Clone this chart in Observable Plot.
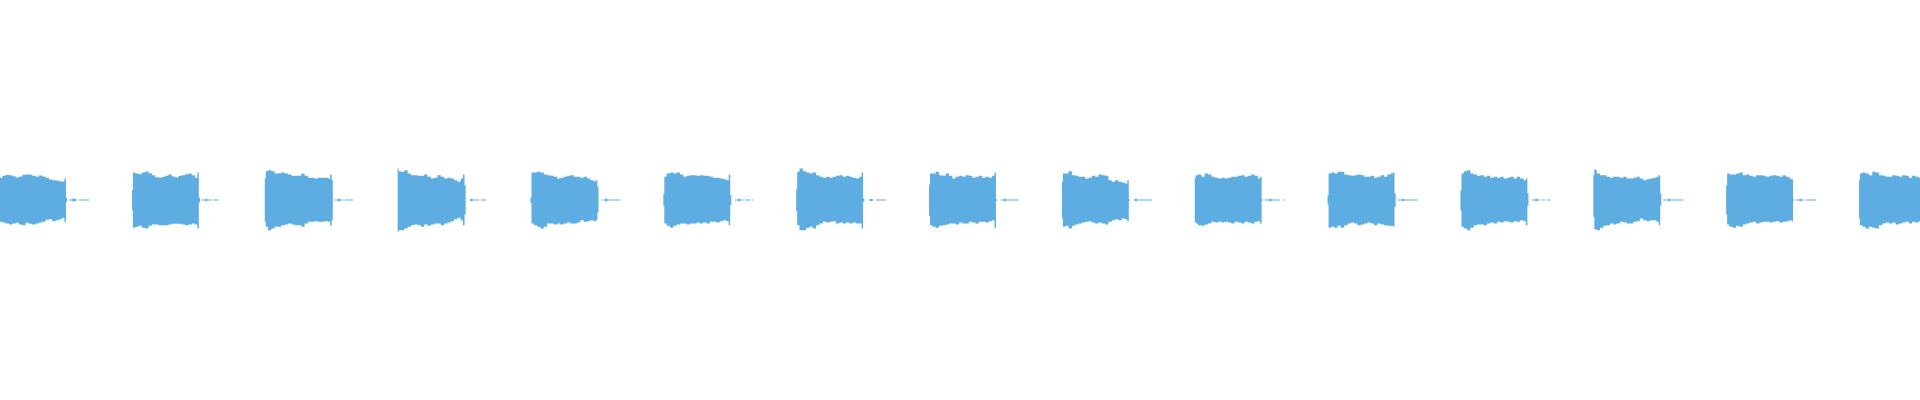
<!DOCTYPE html>
<html>
<head>
<meta charset="utf-8">
<script src="https://cdn.jsdelivr.net/npm/d3@7"></script>
<script src="https://cdn.jsdelivr.net/npm/@observablehq/plot@0.6"></script>
<style>
  html, body { margin: 0; padding: 0; background: #fff; }
  #chart svg { display: block; }
</style>
</head>
<body>
<div id="chart"></div>
<script>
// Tone bursts (seconds) and their amplitude envelopes (percent of full scale)
const blockStarts = [0, 1, 2, 3, 4, 5, 6, 7, 8, 9, 10, 11, 12, 13, 14];

const upperEnvelope = [
  [11.1, 12.1, 12.6, 12.4, 11.9, 11.3, 11.8, 12.6, 12.8, 12.6, 12.1, 11.6, 12.3, 11.8, 11.1, 10.3, 9.9, 9.8, 9.4, 9.1],
  [13.8, 13.3, 12.9, 13.8, 14.2, 13.4, 12.4, 11.4, 11.1, 11.6, 12.1, 12.8, 11.8, 11.3, 12.1, 12.4, 12.9, 13.3, 12.4, 11.1],
  [14.4, 14.9, 14.4, 13.3, 13.4, 13.8, 13.3, 12.8, 12.1, 12.1, 12.1, 13.1, 12.1, 11.1, 11.1, 10.8, 11.1, 11.1, 11.1, 10.8],
  [14.4, 14.1, 14.9, 13.3, 12.4, 12.4, 12.1, 12.1, 12.8, 11.6, 10.8, 11.1, 12.4, 11.6, 10.8, 11.1, 10.8, 9.9, 9.1, 10.8],
  [13.8, 13.8, 14.1, 13.8, 12.8, 12.4, 12.1, 11.6, 10.8, 11.1, 11.6, 12.1, 12.4, 11.6, 11.6, 11.1, 11.6, 10.8, 9.9, 9.4],
  [11.6, 13.3, 13.8, 13.3, 13.8, 12.8, 11.6, 12.1, 12.4, 12.4, 12.1, 12.4, 12.1, 12.1, 11.6, 11.1, 11.1, 10.8, 10.4, 9.9],
  [14.1, 15.8, 14.4, 13.8, 13.3, 13.8, 12.4, 11.6, 11.1, 11.6, 11.1, 11.6, 12.1, 12.4, 11.6, 12.1, 11.6, 11.1, 10.8, 11.6],
  [13.3, 13.3, 14.1, 12.4, 12.1, 13.3, 12.1, 10.8, 11.6, 12.1, 11.6, 12.4, 12.1, 11.1, 11.6, 12.1, 11.1, 11.6, 11.1, 12.1],
  [13.3, 13.3, 14.4, 12.4, 12.1, 11.6, 11.6, 10.8, 11.1, 12.1, 11.6, 12.8, 12.4, 12.1, 9.9, 9.1, 9.9, 9.1, 8.8, 8.3],
  [12.4, 12.8, 11.6, 13.3, 12.8, 11.6, 11.1, 10.8, 11.1, 10.8, 11.1, 11.6, 11.6, 12.1, 12.4, 11.6, 12.1, 12.8, 12.1, 10.8],
  [13.3, 13.8, 13.3, 14.1, 14.1, 12.8, 12.4, 12.1, 12.4, 12.8, 12.4, 11.6, 11.6, 12.1, 11.1, 11.6, 12.4, 11.6, 12.8, 13.3],
  [13.3, 14.4, 14.9, 13.3, 12.8, 12.1, 12.4, 11.6, 12.1, 11.1, 11.6, 11.1, 11.6, 10.8, 11.1, 11.6, 10.8, 11.6, 10.8, 9.9],
  [15.3, 13.3, 12.4, 12.4, 11.6, 11.1, 11.6, 11.6, 11.1, 11.6, 10.8, 10.8, 11.1, 11.6, 10.8, 9.9, 10.4, 10.8, 11.1, 11.6],
  [13.3, 12.8, 12.8, 13.3, 13.8, 12.4, 12.8, 12.1, 11.6, 12.4, 12.4, 12.1, 11.6, 12.1, 12.4, 12.1, 11.6, 12.4, 11.6, 10.8],
  [13.3, 13.8, 13.3, 12.4, 14.1, 13.8, 12.4, 12.1, 11.6, 11.6, 12.4, 12.1, 11.6, 12.4, 12.1, 11.1, 12.1, 11.6, 11.1, 11.1]
];

const lowerEnvelope = [
  [-10.9, -11.3, -11.8, -12.3, -11.8, -11.4, -12.3, -12.6, -11.4, -11.9, -12.3, -11.8, -11.3, -10.9, -9.9, -9.6, -10.6, -10.1, -9.6, -8.9],
  [-13.9, -13.4, -12.9, -13.9, -14.3, -12.9, -12.3, -12.3, -12.6, -12.6, -12.6, -12.3, -11.9, -11.9, -11.9, -12.3, -12.6, -12.3, -11.8, -12.3],
  [-13.4, -15.1, -14.3, -13.4, -13.4, -12.6, -12.3, -11.8, -12.3, -12.6, -12.6, -13.4, -11.8, -10.9, -10.9, -10.6, -10.9, -10.9, -10.6, -10.9],
  [-15.1, -15.1, -14.3, -13.4, -12.6, -12.3, -12.6, -13.4, -12.3, -12.9, -12.3, -11.8, -11.8, -12.6, -11.8, -11.3, -10.6, -9.6, -8.9, -10.1],
  [-11.8, -12.6, -13.4, -14.3, -13.4, -11.8, -11.8, -12.3, -11.8, -12.3, -11.8, -11.3, -11.8, -11.8, -11.3, -10.1, -10.9, -10.6, -10.1, -10.6],
  [-11.8, -12.9, -13.9, -12.9, -12.3, -11.8, -11.8, -12.3, -11.8, -11.8, -11.3, -11.8, -11.3, -11.8, -10.9, -10.9, -11.3, -10.6, -10.1, -10.6],
  [-12.6, -15.1, -15.1, -13.9, -13.4, -14.3, -12.6, -11.8, -10.9, -11.3, -10.9, -10.6, -11.8, -11.3, -11.8, -11.3, -11.8, -11.3, -11.8, -11.8],
  [-12.6, -13.4, -13.9, -12.9, -12.6, -12.3, -11.8, -11.8, -12.3, -11.3, -11.8, -11.8, -10.9, -11.3, -11.8, -10.9, -10.9, -11.3, -10.6, -10.1],
  [-13.4, -12.9, -14.3, -12.9, -12.3, -11.8, -11.3, -10.9, -10.6, -11.3, -11.8, -11.3, -11.8, -12.3, -10.9, -10.1, -9.6, -10.1, -9.3, -9.6],
  [-11.8, -12.6, -12.9, -12.3, -11.8, -10.9, -11.3, -10.9, -11.3, -10.9, -11.3, -11.8, -10.9, -11.3, -11.8, -10.9, -11.3, -11.8, -10.9, -10.6],
  [-13.9, -13.4, -13.9, -12.9, -13.9, -12.6, -11.8, -11.3, -11.8, -12.6, -12.3, -11.8, -11.3, -11.8, -12.6, -11.8, -12.3, -12.6, -12.9, -12.9],
  [-13.4, -14.3, -15.1, -13.9, -12.6, -12.3, -12.3, -12.6, -11.8, -11.3, -11.8, -10.9, -11.3, -10.6, -10.9, -11.3, -10.6, -10.9, -10.1, -10.6],
  [-14.6, -15.1, -13.9, -12.9, -12.6, -11.8, -12.3, -11.8, -10.9, -11.3, -11.8, -11.8, -10.9, -10.6, -9.3, -10.1, -10.6, -10.1, -10.1, -10.9],
  [-12.3, -13.4, -13.9, -12.9, -13.4, -12.3, -11.8, -11.3, -10.9, -11.8, -11.3, -10.9, -10.9, -11.3, -10.9, -10.6, -11.3, -10.9, -10.6, -10.1],
  [-12.6, -13.4, -14.3, -13.4, -13.9, -14.3, -12.6, -11.8, -11.3, -11.8, -11.3, -12.3, -11.8, -11.3, -10.9, -11.8, -10.9, -11.3, -10.6, -10.9]
];

// onset, release peak and release tail of each burst: [upper, lower]
const onsetLevel = [[11.1, -10.9], [4.9, -5.1], [10.8, -10.9], [15.8, -15.9], [1.1, -1.6], [3.3, -2.9], [5.4, -5.6], [7.8, -7.9], [9.1, -9.3], [11.1, -10.9], [2.4, -2.3], [4.9, -5.1], [12.4, -8.4], [7.4, -7.3], [9.9, -9.3]];
const releasePeak = [[10.8, -10.9], [13.8, -14.3], [12.8, -12.9], [12.8, -12.6], [9.9, -10.1], [12.8, -12.6], [13.8, -14.3], [13.8, -13.9], [9.9, -10.6], [11.6, -11.8], [13.8, -13.4], [10.8, -12.6], [12.4, -12.6], [10.4, -10.6], [11.0, -11.0]];
const releaseLow = [[1.1, -0.9], [1.1, -1.3], [9.9, -10.1], [7.4, -7.3], [6.6, -6.3], [2.4, -2.6], [0.8, -0.9], [0.4, -0.4], [0.4, -0.4], [0.4, -0.4], [3.3, -3.4], [3.3, -2.9], [3.3, -2.9], [0.4, -0.4], [1.0, -1.0]];

// residual noise after each burst (percent, symmetric)
const noiseLevels = [
  [0.3, 0.3, 0.7, 0.5, 0.3, 0, 0.3, 0.3, 0.3, 0.3, 0.3, 0.3],
  [0.3, 0.3, 0.6, 0.3, 0.3, 0.3, 0, 0.3, 0.3, 0.3, 0, 0],
  [0.3, 0.3, 0.7, 0.3, 0.3, 0, 0.3, 0.3, 0.3, 0.3, 0.3, 0],
  [0, 0.3, 0.6, 0.3, 0.3, 0.3, 0.3, 0, 0.3, 0.3, 0.3, 0],
  [0, 0.3, 0.3, 0.7, 0.3, 0.3, 0.3, 0.3, 0.3, 0.3, 0.3, 0.3],
  [0, 0.3, 0.3, 0.7, 0.3, 0.3, 0, 0.3, 0.3, 0.3, 0, 0.3],
  [0, 0, 0.5, 0.5, 0, 0, 0.3, 0.3, 0.3, 0.3, 0.3, 0.3],
  [0, 0.3, 0.3, 0.6, 0.3, 0.3, 0.3, 0.3, 0.3, 0.3, 0.3, 0.3],
  [0, 0.3, 0.6, 0.3, 0.3, 0.3, 0.3, 0.3, 0.3, 0.3, 0.3, 0.3],
  [0.3, 0.3, 0.3, 0.6, 0.3, 0.3, 0.3, 0.3, 0.3, 0, 0, 0.3],
  [0.3, 0.3, 0.3, 0.6, 0.3, 0.3, 0.3, 0.3, 0.3, 0.3, 0.3, 0.3],
  [0, 0.3, 0.3, 0.6, 0.3, 0.3, 0, 0.3, 0.3, 0, 0.3, 0.3],
  [0.3, 0.3, 0.3, 0.6, 0.3, 0.3, 0.3, 0.3, 0.3, 0.3, 0.3, 0.3],
  [0.3, 0.3, 0.6, 0.3, 0.3, 0, 0.3, 0.3, 0.3, 0.3, 0.3, 0.3],
  [0, 0, 0, 0, 0, 0, 0, 0, 0, 0, 0, 0]
];

const envelopeStep = 0.025;  // seconds between envelope readings
const noiseStep = 0.0125;    // seconds between noise readings

// Build tables for the library
const bodyRows = [];
const noiseRows = [];
blockStarts.forEach((t0, k) => {
  const push = (t, hi, lo) => bodyRows.push({ block: k, t: t0 + t, hi, lo });
  push(0, onsetLevel[k][0], onsetLevel[k][1]);
  push(0.007, onsetLevel[k][0], onsetLevel[k][1]);
  push(0.008, upperEnvelope[k][0], lowerEnvelope[k][0]);
  upperEnvelope[k].forEach((h, i) => push(0.0125 + envelopeStep * i, h, lowerEnvelope[k][i]));
  push(0.497, releasePeak[k][0], releasePeak[k][1]);
  push(0.503, releasePeak[k][0], releasePeak[k][1]);
  push(0.504, releaseLow[k][0], releaseLow[k][1]);
  push(0.512, releaseLow[k][0], releaseLow[k][1]);
  noiseLevels[k].forEach((a, j) => noiseRows.push({ block: k, t: t0 + 0.527 + noiseStep * j, a }));
  noiseRows.push({ block: k, t: t0 + 0.527 + noiseStep * noiseLevels[k].length, a: 0 });
});

const color = "#5dade2";

const chart = Plot.plot({
  width: 1920,
  height: 400,
  margin: 0,
  x: { domain: [0.007, 14.459], axis: null },
  y: { domain: [-100, 100], axis: null },
  marks: [
    Plot.areaY(bodyRows, { x: "t", y1: "lo", y2: "hi", z: "block", fill: color, curve: "step" }),
    Plot.areaY(noiseRows, { x: "t", y1: d => -d.a, y2: d => d.a, z: "block", fill: color, curve: "step-after" })
  ]
});
document.getElementById("chart").append(chart);
</script>
</body>
</html>
